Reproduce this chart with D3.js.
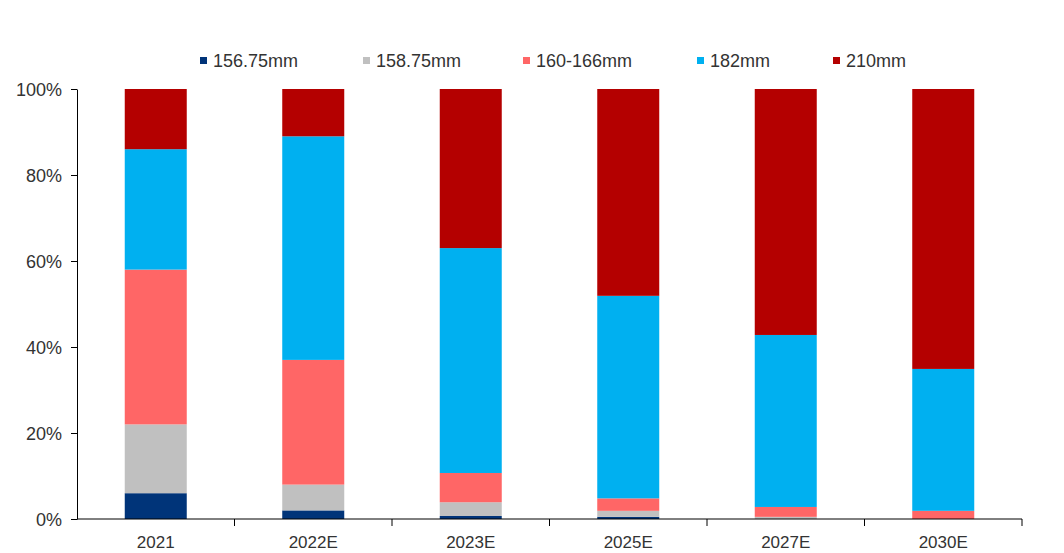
<!DOCTYPE html>
<html><head><meta charset="utf-8">
<script src="https://cdn.jsdelivr.net/npm/d3@7"></script>
<style>body{margin:0;background:#fff;}text{font-family:"Liberation Sans",Arial,sans-serif;}</style>
</head><body><svg id="c" width="1064" height="553"></svg>
<script>
const categories = ["2021","2022E","2023E","2025E","2027E","2030E"];
const seriesNames = ["156.75mm","158.75mm","160-166mm","182mm","210mm"];
const s156 = [6, 2, 0.7, 0.5, 0, 0];
const s158 = [16, 6, 3.2, 1.4, 0.5, 0];
const s160 = [36, 29, 6.8, 2.9, 2.3, 1.9];
const s182 = [28, 52, 52.3, 47.1, 40, 33];
const s210 = [14, 11, 37, 48.1, 57.2, 65.1];
const colors = ["#003479","#C0C0C0","#FF6666","#00B0F0","#B40000"];
const yTicks = [0,20,40,60,80,100];

const svg = d3.select("#c");
const m = {l:77, r:1022, t:89, b:519};
const x = d3.scaleBand().domain(categories).range([m.l, m.r]).paddingInner(0).paddingOuter(0);
const y = d3.scaleLinear().domain([0,100]).range([m.b, m.t]);

const rows = categories.map((c,i)=>({cat:c, "156.75mm":s156[i], "158.75mm":s158[i], "160-166mm":s160[i], "182mm":s182[i], "210mm":s210[i]}));
const stack = d3.stack().keys(seriesNames)(rows);
const bw = 62;

stack.forEach((layer, li)=>{
  svg.append("g").selectAll("rect").data(layer).join("rect")
    .attr("x", d=>x(d.data.cat)+x.bandwidth()/2-bw/2)
    .attr("width", bw)
    .attr("y", d=>y(d[1]))
    .attr("height", d=>Math.max(0, y(d[0])-y(d[1])))
    .attr("fill", colors[li]);
});

const txt = "#333";
// y axis
const ya = svg.append("g").attr("transform",`translate(${m.l},0)`)
  .call(d3.axisLeft(y).tickValues(yTicks).tickFormat(d=>d+"%").tickSize(6).tickSizeOuter(0));
ya.attr("font-size",null).attr("font-family",null);
ya.select(".domain").attr("stroke","#000");
ya.selectAll(".tick line").attr("stroke","#000");
ya.selectAll("text").style("font-size","18px").attr("fill",txt).attr("x",-15).attr("dy","0.35em");

// x axis
const xa = svg.append("g").attr("transform",`translate(0,${m.b})`);
xa.append("line").attr("x1",m.l).attr("x2",m.r).attr("stroke","#000");
const bounds = categories.map(c=>x(c)).concat([x(categories[categories.length-1])+x.bandwidth()]);
xa.selectAll(".tk").data(bounds.slice(1)).join("line")
  .attr("x1",d=>d).attr("x2",d=>d).attr("y1",0).attr("y2",7).attr("stroke","#000");
xa.selectAll(".lb").data(categories).join("text")
  .attr("x",d=>x(d)+x.bandwidth()/2).attr("y",29)
  .attr("text-anchor","middle").style("font-size","17px").attr("fill",txt).text(d=>d);

// legend
const legX = [200, 363, 523, 697, 833];
const lg = svg.append("g");
seriesNames.forEach((n,i)=>{
  lg.append("rect").attr("x",legX[i]).attr("y",57).attr("width",7).attr("height",7).attr("fill",colors[i]);
  lg.append("text").attr("x",legX[i]+13).attr("y",61).attr("dy","0.35em").style("font-size","18px").attr("fill",txt).text(n);
});
</script></body></html>
